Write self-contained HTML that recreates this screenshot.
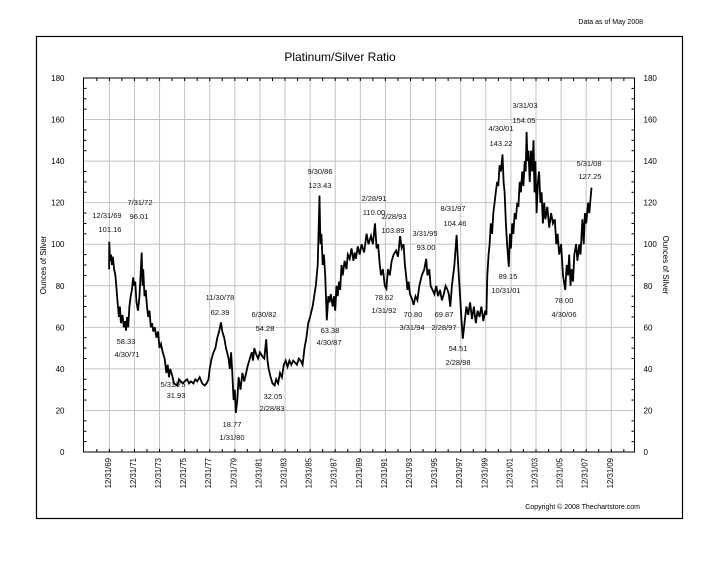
<!DOCTYPE html>
<html><head><meta charset="utf-8"><style>
body{margin:0;background:#fff;width:720px;height:557px;overflow:hidden;font-family:"Liberation Sans",sans-serif}
svg text{font-family:"Liberation Sans",sans-serif}
</style></head><body>
<svg id="chart" width="720" height="557" viewBox="0 0 720 557" xmlns="http://www.w3.org/2000/svg">
<rect x="36.5" y="36.5" width="646" height="482" fill="none" stroke="#000" stroke-width="1.2"/>
<text x="643" y="24" font-size="7" text-anchor="end">Data as of May 2008</text>
<text x="340" y="61" font-size="12" text-anchor="middle">Platinum/Silver Ratio</text>
<text transform="translate(46,265) rotate(-90)" font-size="8" text-anchor="middle">Ounces of Silver</text>
<text transform="translate(663,265) rotate(90)" font-size="8" text-anchor="middle">Ounces of Silver</text>
<text x="640" y="509" font-size="7" text-anchor="end">Copyright © 2008 Thechartstore.com</text>
<g id="grid"></g><g id="axes"></g><g id="series"></g><g id="notes"></g>
</svg>
<script>
const yTicks=[0,20,40,60,80,100,120,140,160,180];
const xTickYears=[1970,1972,1974,1976,1978,1980,1982,1984,1986,1988,1990,1992,1994,1996,1998,2000,2002,2004,2006,2008,2010];
const xTickLabels=["12/31/69","12/31/71","12/31/73","12/31/75","12/31/77","12/31/79","12/31/81","12/31/83","12/31/85","12/31/87","12/31/89","12/31/91","12/31/93","12/31/95","12/31/97","12/31/99","12/31/01","12/31/03","12/31/05","12/31/07","12/31/09"];
const points=[[1969.98,88],[1970.0,101.16],[1970.05,92],[1970.12,95],[1970.2,90],[1970.28,94],[1970.38,88],[1970.48,85],[1970.58,78],[1970.66,72],[1970.76,65],[1970.84,70],[1970.92,62],[1971.05,66],[1971.15,60],[1971.25,63],[1971.33,58.33],[1971.42,65],[1971.5,60],[1971.6,70],[1971.7,75],[1971.8,78],[1971.9,84],[1971.98,80],[1972.06,82],[1972.16,72],[1972.28,68],[1972.4,75],[1972.58,96.01],[1972.64,80],[1972.7,88],[1972.8,75],[1972.9,78],[1973.0,70],[1973.1,65],[1973.2,68],[1973.3,60],[1973.4,62],[1973.5,58],[1973.62,60],[1973.75,55],[1973.88,58],[1974.0,50],[1974.12,52],[1974.25,48],[1974.4,45],[1974.55,38],[1974.65,42],[1974.75,36],[1974.85,40],[1975.0,37],[1975.15,33],[1975.42,31.93],[1975.55,35],[1975.7,34],[1975.85,33],[1976.0,34],[1976.2,35],[1976.35,33],[1976.5,34],[1976.7,33],[1976.85,35],[1977.0,34],[1977.2,36],[1977.4,33],[1977.6,32],[1977.75,33],[1977.9,35],[1978.0,40],[1978.15,45],[1978.3,48],[1978.45,50],[1978.6,55],[1978.75,58],[1978.9,62.39],[1979.0,58],[1979.15,55],[1979.3,50],[1979.5,45],[1979.6,40],[1979.7,48],[1979.8,38],[1979.9,25],[1980.0,30],[1980.08,18.77],[1980.2,25],[1980.3,36],[1980.45,30],[1980.6,38],[1980.75,34],[1980.9,38],[1981.05,42],[1981.2,45],[1981.35,48],[1981.45,44],[1981.55,50],[1981.7,47],[1981.85,45],[1982.0,48],[1982.2,46],[1982.35,45],[1982.5,54.28],[1982.6,44],[1982.7,40],[1982.85,36],[1983.0,33],[1983.17,32.05],[1983.3,35],[1983.45,33],[1983.6,38],[1983.75,36],[1983.9,42],[1984.05,44],[1984.2,41],[1984.35,44],[1984.5,42],[1984.65,44],[1984.8,43],[1984.95,42],[1985.1,45],[1985.25,44],[1985.4,42],[1985.55,50],[1985.7,55],[1985.85,62],[1986.0,65],[1986.2,70],[1986.45,80],[1986.6,90],[1986.75,123.43],[1986.82,100],[1986.9,105],[1987.0,90],[1987.1,95],[1987.2,85],[1987.33,63.38],[1987.45,75],[1987.55,72],[1987.65,76],[1987.8,70],[1987.9,75],[1988.0,68],[1988.1,80],[1988.2,75],[1988.3,82],[1988.4,78],[1988.5,90],[1988.6,85],[1988.75,92],[1988.9,88],[1989.0,95],[1989.15,93],[1989.3,98],[1989.45,92],[1989.55,96],[1989.65,93],[1989.8,99],[1989.95,95],[1990.1,100],[1990.3,96],[1990.5,105],[1990.65,100],[1990.85,104],[1991.0,100],[1991.17,110.0],[1991.3,98],[1991.42,100],[1991.55,90],[1991.65,85],[1991.8,88],[1991.95,80],[1992.08,78.62],[1992.2,88],[1992.35,85],[1992.5,92],[1992.65,95],[1992.85,97],[1993.0,94],[1993.17,103.89],[1993.3,98],[1993.45,100],[1993.55,90],[1993.65,85],[1993.75,78],[1993.85,82],[1993.95,76],[1994.1,74],[1994.25,70.8],[1994.4,75],[1994.55,73],[1994.7,80],[1994.9,85],[1995.1,88],[1995.25,93.0],[1995.35,85],[1995.5,88],[1995.6,80],[1995.75,78],[1995.9,76],[1996.05,80],[1996.2,75],[1996.35,78],[1996.5,73],[1996.65,76],[1996.8,80],[1996.95,78],[1997.05,76],[1997.17,69.87],[1997.3,80],[1997.5,90],[1997.67,104.46],[1997.75,95],[1997.85,85],[1997.95,75],[1998.05,65],[1998.17,54.51],[1998.3,62],[1998.45,70],[1998.6,66],[1998.75,72],[1998.9,64],[1999.05,70],[1999.2,62],[1999.35,68],[1999.5,65],[1999.65,70],[1999.8,63],[1999.95,68],[2000.05,66],[2000.12,85],[2000.22,95],[2000.3,100],[2000.4,110],[2000.5,105],[2000.6,115],[2000.7,120],[2000.8,125],[2000.9,130],[2001.0,128],[2001.1,138],[2001.2,135],[2001.33,143.22],[2001.42,130],[2001.5,125],[2001.6,110],[2001.7,100],[2001.83,89.15],[2001.92,105],[2002.0,98],[2002.1,110],[2002.2,105],[2002.3,115],[2002.4,112],[2002.5,120],[2002.6,118],[2002.7,130],[2002.8,125],[2002.9,135],[2003.0,128],[2003.1,140],[2003.18,135],[2003.25,154.05],[2003.32,140],[2003.4,145],[2003.5,130],[2003.6,145],[2003.7,135],[2003.8,150],[2003.88,125],[2003.95,140],[2004.05,115],[2004.15,130],[2004.25,135],[2004.35,120],[2004.45,125],[2004.55,110],[2004.65,120],[2004.75,112],[2004.9,118],[2005.05,108],[2005.2,115],[2005.35,110],[2005.5,112],[2005.62,100],[2005.72,105],[2005.85,95],[2006.0,100],[2006.15,85],[2006.33,78.0],[2006.45,90],[2006.55,85],[2006.65,95],[2006.75,80],[2006.85,88],[2006.95,82],[2007.05,95],[2007.2,100],[2007.3,92],[2007.45,100],[2007.55,95],[2007.7,112],[2007.8,100],[2007.9,115],[2008.0,110],[2008.15,120],[2008.25,115],[2008.42,127.25]];
const notes=[["12/31/69",107,218],["101.16",110,232],["7/31/72",140,205],["96.01",139,219],["58.33",126,344],["4/30/71",127,357],["11/30/78",220,300],["62.39",220,315],["6/30/82",264,317],["54.28",265,331],["5/31/75",173,387],["31.93",176,398],["32.05",273,399],["2/28/83",272,411],["18.77",232,427],["1/31/80",232,440],["9/30/86",320,174],["123.43",320,188],["63.38",330,333],["4/30/87",329,345],["2/28/91",374,201],["110.00",374,215],["2/28/93",394,219],["103.89",393,233],["3/31/95",425,236],["93.00",426,250],["8/31/97",453,211],["104.46",455,226],["78.62",384,300],["1/31/92",384,313],["70.80",413,317],["3/31/94",412,330],["69.87",444,317],["2/28/97",444,330],["54.51",458,351],["2/28/98",458,365],["4/30/01",501,131],["143.22",501,146],["3/31/03",525,108],["154.05",524,123],["5/31/08",589,166],["127.25",590,179],["89.15",508,279],["10/31/01",506,293],["78.00",564,303],["4/30/06",564,317]];
const L=83.5,R=634.5,T=78,B=452,Y0=1967.94,Y1=2011.85;
const xs=t=>L+(t-Y0)/(Y1-Y0)*(R-L);
const ys=v=>B-v/180*(B-T);
const NS="http://www.w3.org/2000/svg";
function mk(tag,parent,attrs){const e=document.createElementNS(NS,tag);for(const k in attrs)e.setAttribute(k,attrs[k]);parent.appendChild(e);return e;}
const grid=document.getElementById('grid'),axes=document.getElementById('axes'),ser=document.getElementById('series'),nt=document.getElementById('notes');
yTicks.forEach(v=>{
  const y=ys(v);
  if(v>0&&v<180){const g=mk('line',grid,{x1:L,x2:R,y1:y,y2:y,stroke:'#c4c4c4','stroke-width':1});
  
  }
  const a=mk('text',axes,{x:L-19,y:y+3,'font-size':8,'text-anchor':'end'});a.textContent=v;
  
  
  const b=mk('text',axes,{x:R+9,y:y+3,'font-size':8,'text-anchor':'start'});b.textContent=v;
  
  
});
for(let v=0;v<=180;v+=5){const y=ys(v);const len=v%20===0?0:3;
  if(len){mk('line',axes,{x1:L,x2:L+len,y1:y,y2:y,stroke:'#000'});mk('line',axes,{x1:R,x2:R-len,y1:y,y2:y,stroke:'#000'});}}
xTickYears.forEach((yr,i)=>{
  const x=xs(yr);
  const g=mk('line',grid,{x1:x,x2:x,y1:T,y2:B,stroke:'#c4c4c4','stroke-width':1});
  
  
  const t=mk('text',axes,{transform:`translate(${x+1.5},${B+6}) rotate(-90)`,'font-size':7.8,'text-anchor':'end'});t.textContent=xTickLabels[i];
  
  
});
for(let yr=1969;yr<=2011;yr++){const x=xs(yr);mk('line',axes,{x1:x,x2:x,y1:B,y2:B-3,stroke:'#000'});mk('line',axes,{x1:x,x2:x,y1:T,y2:T+3,stroke:'#000'});}
const frame=mk('rect',axes,{x:L,y:T,width:R-L,height:B-T,fill:'none',stroke:'#000','stroke-width':1});


const line=mk('polyline',ser,{points:points.map(p=>xs(p[0]).toFixed(1)+','+ys(p[1]).toFixed(1)).join(' '),fill:'none',stroke:'#000','stroke-width':1.8,'stroke-linejoin':'miter'});


notes.forEach(n=>{const t=mk('text',nt,{x:n[1],y:n[2],'font-size':7.5,'text-anchor':'middle',fill:'#111'});t.textContent=n[0];
  
  });
</script>
</body></html>
